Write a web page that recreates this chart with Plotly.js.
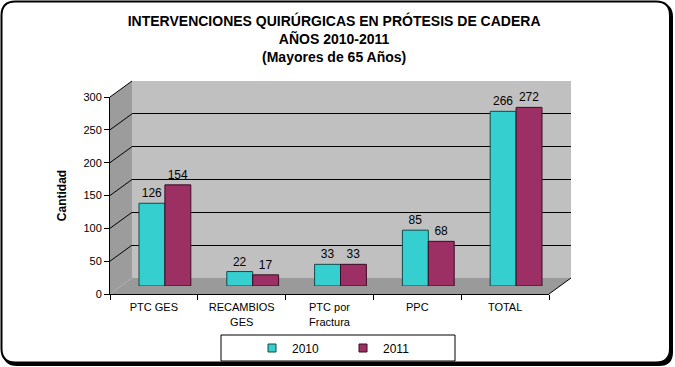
<!DOCTYPE html>
<html>
<head>
<meta charset="utf-8">
<script src="https://cdn.plot.ly/plotly-3.0.1.min.js"></script>
<style>html,body{margin:0;padding:0;background:#fff;}#chart{width:675px;height:367px;}</style>
</head>
<body>
<div id="chart"></div>
<script>
// ---- data ----
const categories = ['PTC GES', 'RECAMBIOS<br>GES', 'PTC por<br>Fractura', 'PPC', 'TOTAL'];
const series2010 = [126, 22, 33, 85, 266];
const series2011 = [154, 17, 33, 68, 272];
const seriesNames = ['2010', '2011'];
const yTicks = [0, 50, 100, 150, 200, 250, 300];

// ---- geometry (pixels) ----
const W = 675, H = 367;
const px = x => x / W;
const py = y => 1 - y / H;
const front = {x0: 110, x1: 549, y0: 294, y1: 97};
const back = {dx: 22, dy: -16};
const mid = {dx: 11, dy: -8};
const yMax = 300;
const yFront = v => front.y0 - (front.y0 - front.y1) * v / yMax;

function path(pts) {
  return 'M' + pts.map(p => px(p[0]).toFixed(5) + ',' + py(p[1]).toFixed(5)).join(' L') + ' Z';
}
function rrect(l, t, r, b, rad) {
  const P = (x, y) => px(x).toFixed(5) + ',' + py(y).toFixed(5);
  return 'M' + P(l + rad, t) + ' L' + P(r - rad, t) + ' Q' + P(r, t) + ' ' + P(r, t + rad) +
    ' L' + P(r, b - rad) + ' Q' + P(r, b) + ' ' + P(r - rad, b) +
    ' L' + P(l + rad, b) + ' Q' + P(l, b) + ' ' + P(l, b - rad) +
    ' L' + P(l, t + rad) + ' Q' + P(l, t) + ' ' + P(l + rad, t) + ' Z';
}

const shapes = [];
// outer frame shadow + frame
shapes.push({type: 'path', xref: 'paper', yref: 'paper', layer: 'below', path: rrect(3, 3, 673, 366, 14), fillcolor: '#000', line: {width: 0}});
shapes.push({type: 'path', xref: 'paper', yref: 'paper', layer: 'below', path: rrect(1.5, 1.5, 670, 362.5, 14), fillcolor: '#fff', line: {color: '#000', width: 2}});
// back wall
shapes.push({type: 'path', xref: 'paper', yref: 'paper', layer: 'below',
  path: path([[front.x0 + back.dx, front.y1 + back.dy], [front.x1 + back.dx, front.y1 + back.dy], [front.x1 + back.dx, front.y0 + back.dy], [front.x0 + back.dx, front.y0 + back.dy]]),
  fillcolor: '#c0c0c0', line: {width: 0}});
// side wall
shapes.push({type: 'path', xref: 'paper', yref: 'paper', layer: 'below',
  path: path([[front.x0, front.y1], [front.x0 + back.dx, front.y1 + back.dy], [front.x0 + back.dx, front.y0 + back.dy], [front.x0, front.y0]]),
  fillcolor: '#9c9c9c', line: {width: 0}});
// floor
shapes.push({type: 'path', xref: 'paper', yref: 'paper', layer: 'below',
  path: path([[front.x0, front.y0], [front.x1, front.y0], [front.x1 + back.dx, front.y0 + back.dy], [front.x0 + back.dx, front.y0 + back.dy]]),
  fillcolor: '#9a9a9a', line: {width: 0}});
// floor right edge
shapes.push({type: 'line', xref: 'paper', yref: 'paper', layer: 'below',
  x0: px(front.x1), y0: py(front.y0), x1: px(front.x1 + back.dx), y1: py(front.y0 + back.dy), line: {color: '#000', width: 1}});
// side wall grid diagonals
yTicks.forEach(v => {
  if (v === 0) return;
  shapes.push({type: 'line', xref: 'paper', yref: 'paper', layer: 'below',
    x0: px(front.x0), y0: py(yFront(v)), x1: px(front.x0 + back.dx), y1: py(yFront(v) + back.dy), line: {color: '#000', width: 1}});
});
// legend box
shapes.push({type: 'rect', xref: 'paper', yref: 'paper', layer: 'below',
  x0: px(221), x1: px(455), y0: py(361), y1: py(335), fillcolor: '#fff', line: {color: '#000', width: 1}});

const baseFont = {family: 'Arial, Liberation Sans, sans-serif', color: '#000'};
const colors = ['#36cfcf', '#9c2f63'];
const edges = ['#0f4a4a', '#3a0c22'];

const traces = [
  // establish front category axis
  {type: 'scatter', x: categories, y: series2010, xaxis: 'x', yaxis: 'y', mode: 'markers', marker: {opacity: 0}, showlegend: false, hoverinfo: 'skip'},
  // legend proxies (also instantiate the back-wall subplot for its gridlines)
  {type: 'scatter', name: seriesNames[0], x: [-1], y: [-1], xaxis: 'x2', yaxis: 'y2', mode: 'markers', cliponaxis: true,
   marker: {symbol: 'square', size: 8, color: colors[0], line: {color: edges[0], width: 1}}, hoverinfo: 'skip'},
  {type: 'scatter', name: seriesNames[1], x: [-1], y: [-1], xaxis: 'x2', yaxis: 'y2', mode: 'markers', cliponaxis: true,
   marker: {symbol: 'square', size: 8, color: colors[1], line: {color: edges[1], width: 1}}, hoverinfo: 'skip'},
  {type: 'bar', name: seriesNames[0], x: categories, y: series2010, xaxis: 'x3', yaxis: 'y3', showlegend: false,
   marker: {color: colors[0], line: {color: edges[0], width: 1}},
   text: series2010.map(String), textposition: 'outside', cliponaxis: false,
   textfont: Object.assign({size: 12}, baseFont)},
  {type: 'bar', name: seriesNames[1], x: categories, y: series2011, xaxis: 'x3', yaxis: 'y3', showlegend: false,
   marker: {color: colors[1], line: {color: edges[1], width: 1}},
   text: series2011.map(String), textposition: 'outside', cliponaxis: false,
   textfont: Object.assign({size: 12}, baseFont)}
];

const layout = {
  width: W, height: H,
  margin: {l: 0, r: 0, t: 0, b: 0},
  paper_bgcolor: '#fff',
  plot_bgcolor: 'rgba(0,0,0,0)',
  font: Object.assign({size: 11}, baseFont),
  title: {
    text: '<b>INTERVENCIONES QUIRÚRGICAS EN PRÓTESIS DE CADERA<br>AÑOS 2010-2011<br>(Mayores de 65 Años)</b>',
    font: Object.assign({size: 14}, baseFont),
    x: 0.495, xanchor: 'center', y: py(26), yanchor: 'middle'
  },
  showlegend: true,
  legend: {orientation: 'h', x: px(343), xanchor: 'center', y: py(348), yanchor: 'middle',
    bgcolor: 'rgba(0,0,0,0)', borderwidth: 0, font: Object.assign({size: 12}, baseFont), entrywidth: 46, itemwidth: 30,
    traceorder: 'normal'},
  barmode: 'group', bargap: 0.41, bargroupgap: 0,
  xaxis: {domain: [px(front.x0), px(front.x1)], type: 'category', categoryarray: categories, range: [-0.5, 4.5],
    showline: true, linecolor: '#000', linewidth: 1, ticks: 'outside', tickson: 'boundaries', ticklen: 5, tickcolor: '#000',
    ticklabelstandoff: 3,
    showgrid: false, zeroline: false, anchor: 'y', tickfont: Object.assign({size: 11}, baseFont)},
  yaxis: {domain: [py(front.y0), py(front.y1)], range: [0, yMax], tickvals: yTicks, anchor: 'x',
    showline: true, linecolor: '#000', linewidth: 1, ticks: 'outside', ticklen: 5, tickcolor: '#000',
    showgrid: false, zeroline: false, tickfont: Object.assign({size: 11}, baseFont),
    title: {text: '<b>Cantidad</b>', font: Object.assign({size: 12}, baseFont), standoff: 14}},
  xaxis2: {domain: [px(front.x0 + back.dx), px(front.x1 + back.dx)], range: [0, 1], anchor: 'y2',
    showgrid: false, showline: false, zeroline: false, showticklabels: false, ticks: ''},
  yaxis2: {domain: [py(front.y0 + back.dy), py(front.y1 + back.dy)], range: [0, yMax], tickvals: yTicks, anchor: 'x2',
    showgrid: true, gridcolor: '#000', gridwidth: 1, showline: false, zeroline: false, showticklabels: false, ticks: ''},
  xaxis3: {domain: [px(front.x0 + mid.dx), px(front.x1 + mid.dx)], type: 'category', categoryarray: categories, range: [-0.5, 4.5],
    anchor: 'y3', visible: false},
  yaxis3: {domain: [py(front.y0 + mid.dy), py(front.y1 + mid.dy)], range: [0, yMax], anchor: 'x3', visible: false},
  shapes: shapes
};

Plotly.newPlot('chart', traces, layout, {displayModeBar: false, staticPlot: true});
</script>
</body>
</html>
